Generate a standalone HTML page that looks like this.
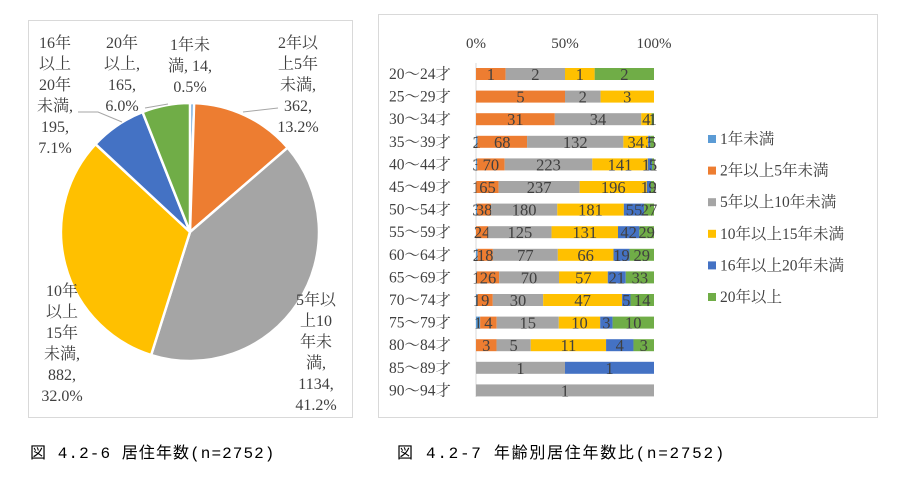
<!DOCTYPE html>
<html><head><meta charset="utf-8"><style>
body{margin:0;background:#fff;width:905px;height:481px;overflow:hidden}
svg text{font-family:"Liberation Serif","Noto Serif CJK JP",serif;fill:#404040}
.cap{font-family:"Liberation Mono","Noto Sans CJK JP",monospace;fill:#000;font-size:16px;letter-spacing:0.6px}
</style></head><body>
<svg id="s" width="905" height="481" xmlns="http://www.w3.org/2000/svg">
<rect x="28.5" y="20.5" width="324" height="397" fill="#fff" stroke="#d9d9d9"/>
<rect x="378.5" y="14.5" width="499" height="403" fill="#fff" stroke="#d9d9d9"/>
<text class="cap" x="30" y="458" textLength="245">図 4.2-6 居住年数(n=2752)</text>
<text class="cap" x="397" y="458" textLength="328">図 4.2-7 年齢別居住年数比(n=2752)</text>
</svg>
<script>
const s=document.getElementById('s');const NS='http://www.w3.org/2000/svg';
function el(t,a,txt){const e=document.createElementNS(NS,t);for(const k in a)e.setAttribute(k,a[k]);if(txt!==undefined)e.textContent=txt;s.appendChild(e);return e;}
const cols=['#5b9bd5','#ed7d31','#a5a5a5','#ffc000','#4472c4','#70ad47'];
const cnt=[14,362,1134,882,195,165],T=2752,cx=190,cy=232,r=129;let f=0;
cnt.forEach((c,i)=>{const a0=f*2*Math.PI;f+=c/T;const a1=f*2*Math.PI;
const x0=cx+r*Math.sin(a0),y0=cy-r*Math.cos(a0),x1=cx+r*Math.sin(a1),y1=cy-r*Math.cos(a1);
el('path',{d:`M${cx},${cy}L${x0},${y0}A${r},${r} 0 ${a1-a0>Math.PI?1:0} 1 ${x1},${y1}Z`,fill:cols[i],stroke:'#fff','stroke-width':2.5});});
el('path',{d:'M243,112L278,108',stroke:'#a6a6a6',fill:'none'});
el('path',{d:'M78,112L98,112L122,122',stroke:'#a6a6a6',fill:'none'});
el('path',{d:'M145,108L168,104',stroke:'#a6a6a6',fill:'none'});
function lab(x,y,lines){lines.forEach((l,i)=>el('text',{x:x,y:y+i*21,'font-size':16,'text-anchor':'middle'},l));}
lab(190,50,['1年未','満, 14,','0.5%']);
lab(122,48,['20年','以上,','165,','6.0%']);
lab(55,48,['16年','以上','20年','未満,','195,','7.1%']);
lab(298,48,['2年以','上5年','未満,','362,','13.2%']);
lab(316,305,['5年以','上10','年未','満,','1134,','41.2%']);
lab(62,296,['10年','以上','15年','未満,','882,','32.0%']);
const x0=476,W=178;
el('line',{x1:x0,y1:63,x2:x0,y2:397,stroke:'#d9d9d9'});
[['0%',x0],['50%',x0+W/2],['100%',x0+W]].forEach(([t,x])=>el('text',{x:x,y:48,'font-size':15,'text-anchor':'middle'},t));
const ages=['20～24才','25～29才','30～34才','35～39才','40～44才','45～49才','50～54才','55～59才','60～64才','65～69才','70～74才','75～79才','80～84才','85～89才','90～94才'];
const d=[[0,1,2,1,0,2],[0,5,2,3,0,0],[0,31,34,4,0,1],[2,68,132,34,3,5],[3,70,223,141,11,5],[1,65,237,196,12,9],[3,38,180,181,55,27],[0,24,125,131,42,29],[2,18,77,66,19,29],[1,26,70,57,21,33],[1,9,30,47,5,14],[1,4,15,10,3,10],[0,3,5,11,4,3],[0,0,1,0,1,0],[0,0,1,0,0,0]];
d.forEach((row,j)=>{const y=74+j*22.6;const tot=row.reduce((a,b)=>a+b,0);let x=x0;
el('text',{x:389,y:y+5,'font-size':15.5},ages[j]);
row.forEach((v,i)=>{if(!v)return;const w=v/tot*W;el('rect',{x:x,y:y-6,width:w,height:12,fill:cols[i]});
el('text',{x:x+w/2,y:y+6,'font-size':16.5,'text-anchor':'middle'},v);x+=w;});});
['1年未満','2年以上5年未満','5年以上10年未満','10年以上15年未満','16年以上20年未満','20年以上'].forEach((t,i)=>{const y=139+i*31.6;
el('rect',{x:708,y:y-4,width:8,height:8,fill:cols[i]});el('text',{x:720,y:y+5,'font-size':15.5},t);});
</script>
</body></html>
